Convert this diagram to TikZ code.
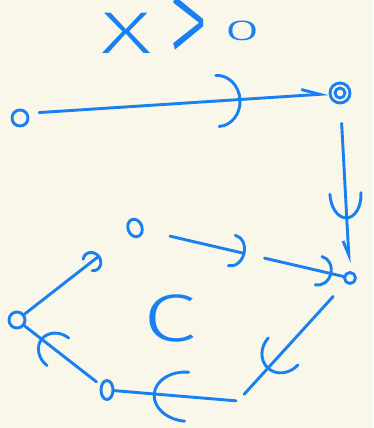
\documentclass[tikz,border=0pt]{standalone}
\usepackage{fontspec}
\setsansfont{Fira Sans}[UprightFont=* Light]
\usepackage{tikz}
\usetikzlibrary{arrows.meta, decorations.markings, shapes.geometric}
\definecolor{inkblue}{RGB}{24,128,240}
\definecolor{paper}{RGB}{249,246,234}
\tikzset{
  ink/.style={draw=inkblue, line width=2.9pt, line cap=round, line join=round},
  dotnode/.style={circle, ink, inner sep=0pt, minimum size=#1},
  ovalnode/.style 2 args={ellipse, ink, inner sep=0pt, minimum width=#1, minimum height=#2},
  head/.style n args={3}{postaction={decorate, decoration={markings,
      mark=at position #1 with {\arrow{Arc Barb[round, length=#3, width=#2]}}}}},
}

\begin{document}
\begin{tikzpicture}[x=1pt, y=-1pt]
  % paper
  \fill[paper] (0,0) rectangle (373,428);
  \useasboundingbox (0,0) rectangle (373,428);
  % title
  \node[inkblue, inner sep=0pt, anchor=base, font=\sffamily\fontsize{56}{56}\selectfont] (title) at (181,53)
    {\scalebox{1.74}[1.05]{X}\hspace{16pt}\raisebox{-16pt}{\scalebox{1.45}[2.43]{>}}\hspace{16pt}\raisebox{13pt}{\scalebox{2.7}[1.2]{\fontsize{24}{24}\selectfont 0}}};
  % points
  \node[dotnode=16pt] (pA) at (20,118) {};
  \node[dotnode=20pt] (pB) at (340,93) {};
  \draw[ink] (pB) circle (5pt);
  \node[dotnode=11pt] (pR) at (350,278) {};
  \node[ovalnode={14pt}{18pt}, rotate=20] (pT) at (135,228) {};
  \node[dotnode=16pt] (pL) at (17,320) {};
  \node[ovalnode={12pt}{19pt}] (pD) at (107,390) {};
  \coordinate (kink) at (238,401);
  % path from pA
  \draw[ink, shorten <=11pt, head={0.71}{54pt}{24pt},
    -{Straight Barb[left, length=18pt, width=12pt]}] (pA.30) -- (pB);
  \draw[ink, shorten <=19pt, shorten >=8pt, head={0.69}{34pt}{26pt},
    -{Straight Barb[right, length=14pt, width=10pt]}] (pB) -- (pR);
  % the loop C
  \draw[ink, shorten <=27pt, dash pattern=on 75pt off 22pt on 400pt,
    head={0.51}{34pt}{14pt}, head={0.945}{32pt}{14pt}] (pT) -- (pR);
  \draw[ink, shorten <=18pt, shorten >=9pt, head={0.73}{43pt}{24pt}] (pR) -- (kink);
  \draw[ink, shorten <=2pt, head={0.69}{52pt}{34pt}] (kink) -- (pD);
  \draw[ink, shorten <=5pt, head={0.79}{38pt}{22pt}] (pD) -- (pL);
  \draw[ink, shorten >=36pt, -{Arc Barb[round, arc=260, length=10pt, width=22pt]}] (pL) -- (pT);
  \node[inkblue, font=\sffamily\fontsize{64}{64}\selectfont] (cyc) at (170,318)
    {\scalebox{1.5}[1.05]{C}};
\end{tikzpicture}
\end{document}
